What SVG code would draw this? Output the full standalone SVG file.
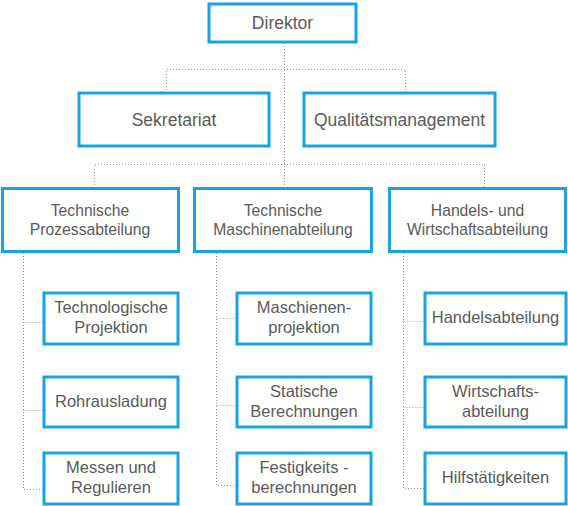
<svg xmlns="http://www.w3.org/2000/svg" width="568" height="506" viewBox="0 0 568 506">
<style>
.box{fill:#fff;stroke:#17a3e1;stroke-width:3}
.t{font-family:"Liberation Sans",Arial,sans-serif;fill:#5a5a5a;text-anchor:middle}
.l1{font-size:17.5px}
.l2{font-size:15.7px}
.l3{font-size:16.5px}
.c{fill:none;stroke:#9a9a9a;stroke-width:1;stroke-dasharray:1 2}
</style>
<rect width="568" height="506" fill="#fff"/>
<g id="connectors">
<path class="c" d="M284.5 43V188M166.5 93V69.5H405.5V93M94.5 188V164.5H484.5V188"/>
<path class="c" d="M23.5 253V489.5H43M23.5 322.5H43M23.5 410.5H43"/>
<path class="c" d="M216.5 250V485.5H236M216.5 318.5H236M216.5 405.5H236"/>
<path class="c" d="M403.5 253V488.5H424M403.5 321.5H424M403.5 407.5H424"/>
</g>
<g id="direktor"><rect class="box" x="209" y="4" width="147" height="38"/><text class="t l1" x="282.5" y="29">Direktor</text></g>
<g id="sekretariat"><rect class="box" x="79" y="93" width="190" height="53"/><text class="t l1" x="174" y="126">Sekretariat</text></g>
<g id="qualitaet"><rect class="box" x="304" y="93" width="191" height="53"/><text class="t l1" x="399.5" y="126">Qualitätsmanagement</text></g>
<g id="prozess"><rect class="box" x="2.5" y="188.5" width="176" height="63"/><text class="t l2" x="90" y="216">Technische</text><text class="t l2" x="90" y="235">Prozessabteilung</text></g>
<g id="maschinen"><rect class="box" x="194.5" y="188.5" width="177" height="63"/><text class="t l2" x="283" y="216">Technische</text><text class="t l2" x="283" y="235">Maschinenabteilung</text></g>
<g id="handels"><rect class="box" x="389.5" y="188.5" width="176" height="63"/><text class="t l2" x="477.5" y="216">Handels- und</text><text class="t l2" x="477.5" y="235">Wirtschaftsabteilung</text></g>
<g id="technologische"><rect class="box" x="44" y="293" width="134" height="51"/><text class="t l3" x="111" y="313">Technologische</text><text class="t l3" x="111" y="333">Projektion</text></g>
<g id="rohrausladung"><rect class="box" x="44" y="377" width="134" height="50"/><text class="t l3" x="111" y="407">Rohrausladung</text></g>
<g id="messen"><rect class="box" x="44" y="453" width="134" height="51"/><text class="t l3" x="111" y="473">Messen und</text><text class="t l3" x="111" y="493">Regulieren</text></g>
<g id="maschienen"><rect class="box" x="237" y="293" width="134" height="51"/><text class="t l3" x="304" y="313">Maschienen-</text><text class="t l3" x="304" y="333">projektion</text></g>
<g id="statische"><rect class="box" x="237" y="377" width="134" height="50"/><text class="t l3" x="304" y="397">Statische</text><text class="t l3" x="304" y="417">Berechnungen</text></g>
<g id="festigkeits"><rect class="box" x="237" y="453" width="134" height="51"/><text class="t l3" x="304" y="473">Festigkeits -</text><text class="t l3" x="304" y="493">berechnungen</text></g>
<g id="handelsabteilung"><rect class="box" x="425" y="293" width="141" height="51"/><text class="t l3" x="495.5" y="323">Handelsabteilung</text></g>
<g id="wirtschafts"><rect class="box" x="425" y="377" width="141" height="50"/><text class="t l3" x="495.5" y="397">Wirtschafts-</text><text class="t l3" x="495.5" y="417">abteilung</text></g>
<g id="hilfs"><rect class="box" x="425" y="453" width="141" height="51"/><text class="t l3" x="495.5" y="483">Hilfstätigkeiten</text></g>
</svg>
